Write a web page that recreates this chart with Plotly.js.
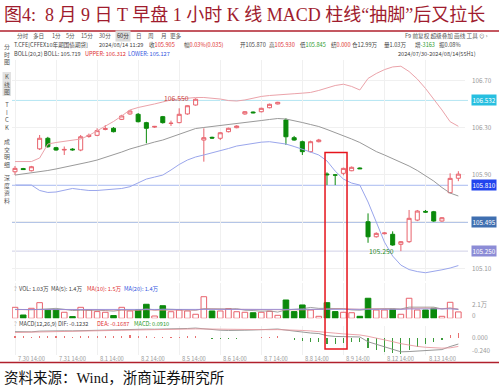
<!DOCTYPE html>
<html><head><meta charset="utf-8">
<script src="https://cdn.plot.ly/plotly-3.0.1.min.js"></script>
<style>html,body{margin:0;padding:0;background:#fff;}#chart{width:499px;height:389px;}</style>
</head><body><div id="chart"></div>
<script>
// ---------- DATA ----------
const barIdx = [0,1,2,3,4,5,6,7,8,9,10,11,12,13,14,15,16,17,18,19,20,21,22,23,24,25,26,27,28,29,30,31,32,33,34,35,36,37,38,39,40,41,42,43,44,45,46,47,48,49,50,51,52,53,54];
const tickIdx = [0,5,10,15,20,25,30,35,40,45,50];
const tickLabels = ["7.30 14:00","7.31 14:00","8.1 14:00","8.2 14:00","8.5 14:00","8.6 14:00","8.7 14:00","8.8 14:00","8.9 14:00","8.12 14:00","8.13 14:00"];

const open  = [105.925,105.952,105.934,106.120,106.210,106.130,106.110,106.118,106.110,106.225,106.235,106.285,106.295,106.371,106.417,106.414,106.343,106.305,106.394,106.336,106.343,106.417,106.493,106.195,106.218,106.210,106.266,106.300,106.417,106.433,106.436,106.470,106.502,106.366,106.215,106.181,106.096,106.181,105.906,105.898,105.912,105.934,105.957,105.500,105.372,105.398,105.393,105.308,105.330,105.514,105.588,105.585,105.506,105.747,105.870];
const high  = [105.974,105.958,105.975,106.238,106.222,106.137,106.140,106.125,106.238,106.250,106.295,106.323,106.305,106.410,106.450,106.425,106.350,106.315,106.400,106.360,106.465,106.490,106.550,106.295,106.224,106.262,106.300,106.320,106.440,106.438,106.470,106.505,106.520,106.380,106.230,106.190,106.190,106.205,105.920,105.905,105.960,105.970,105.962,105.571,105.410,105.410,105.418,105.335,105.600,105.600,105.600,105.592,105.540,105.912,105.930];
const low   = [105.897,105.940,105.928,106.110,106.130,106.105,106.068,106.105,106.100,106.215,106.228,106.278,106.260,106.365,106.410,106.345,106.167,106.298,106.335,106.315,106.338,106.410,106.488,106.011,106.205,106.195,106.260,106.295,106.410,106.422,106.430,106.465,106.498,106.153,106.190,106.068,106.090,106.175,105.812,105.812,105.895,105.930,105.948,105.321,105.365,105.392,105.296,105.250,105.320,105.505,105.575,105.500,105.500,105.740,105.845];
const close = [105.954,105.944,105.968,106.210,106.138,106.110,106.115,106.112,106.223,106.235,106.275,106.292,106.266,106.400,106.442,106.351,106.295,106.311,106.343,106.338,106.414,106.487,106.542,106.215,106.212,106.257,106.295,106.314,106.436,106.427,106.465,106.499,106.516,106.223,106.195,106.096,106.181,106.195,105.900,105.897,105.954,105.963,105.951,105.372,105.401,105.404,105.302,105.330,105.529,105.591,105.582,105.506,105.534,105.869,105.905];

const bollUpper = [106.012,106.012,106.012,106.042,106.161,106.174,106.183,106.191,106.204,106.234,106.272,106.314,106.353,106.400,106.451,106.472,106.485,106.502,106.519,106.536,106.544,106.553,106.557,106.557,106.553,106.544,106.531,106.527,106.536,106.553,106.566,106.574,106.581,106.587,106.589,106.594,106.600,106.617,106.638,106.659,106.670,106.651,106.621,106.719,106.761,106.794,106.817,106.823,106.778,106.714,106.634,106.544,106.451,106.351,106.312];
const bollMid   = [105.897,105.906,105.913,105.923,105.936,105.949,105.963,105.976,105.991,106.008,106.025,106.046,106.068,106.093,106.119,106.140,106.157,106.178,106.195,106.221,106.246,106.268,106.293,106.302,106.310,106.316,106.323,106.331,106.344,106.353,106.361,106.370,106.378,106.374,106.361,106.344,106.327,106.310,106.285,106.259,106.234,106.204,106.174,106.136,106.097,106.068,106.038,106.008,105.974,105.936,105.893,105.846,105.791,105.744,105.719];
const bollLower = [105.812,105.815,105.812,105.766,105.749,105.753,105.770,105.783,105.774,105.766,105.766,105.770,105.774,105.783,105.798,105.834,105.863,105.880,105.897,105.940,105.987,106.025,106.051,106.068,106.085,106.104,106.123,106.144,106.157,106.170,106.177,106.181,106.174,106.161,106.140,106.119,106.093,106.068,106.017,105.931,105.863,105.829,105.812,105.668,105.489,105.327,105.208,105.131,105.093,105.076,105.066,105.076,105.091,105.106,105.127];

// volume in 万
const volume = [1.77,0.53,1.61,2.52,1.34,1.34,0.97,0.27,1.77,1.34,1.08,0.97,0.44,1.77,1.18,1.34,2.26,0.37,2.03,1.06,1.34,1.18,0.65,3.48,1.18,1.18,1.55,1.06,0.97,0.90,0.97,1.13,0.48,2.95,1.08,2.15,1.34,0.32,2.52,1.08,0.97,0.90,0.32,3.23,1.34,1.34,1.45,0.65,3.23,1.34,1.34,1.61,0.32,2.58,1.03];
const volMA5  = [1.45,1.40,1.38,1.45,1.50,1.60,1.45,1.25,1.30,1.35,1.30,1.25,1.15,1.35,1.35,1.30,1.55,1.35,1.50,1.45,1.40,1.45,1.30,1.55,1.50,1.55,1.50,1.55,1.30,1.25,1.15,1.20,1.00,1.35,1.40,1.55,1.75,1.60,1.60,1.60,1.55,1.35,1.30,1.45,1.55,1.55,1.55,1.50,1.80,1.80,1.80,1.80,1.50,1.65,1.40];
const volMA10 = [1.40,1.40,1.40,1.42,1.45,1.48,1.45,1.40,1.38,1.40,1.40,1.35,1.30,1.30,1.32,1.30,1.40,1.30,1.32,1.40,1.38,1.40,1.35,1.50,1.48,1.50,1.48,1.45,1.40,1.38,1.35,1.35,1.30,1.35,1.30,1.35,1.40,1.40,1.50,1.50,1.55,1.50,1.45,1.55,1.55,1.52,1.50,1.45,1.60,1.65,1.65,1.62,1.55,1.65,1.50];
const volMA20 = [1.42,1.42,1.41,1.42,1.43,1.44,1.43,1.42,1.42,1.42,1.41,1.40,1.38,1.38,1.38,1.37,1.39,1.37,1.38,1.38,1.38,1.39,1.37,1.42,1.42,1.43,1.43,1.42,1.41,1.40,1.38,1.38,1.36,1.40,1.40,1.42,1.44,1.42,1.44,1.44,1.44,1.42,1.40,1.45,1.46,1.46,1.46,1.45,1.50,1.52,1.52,1.50,1.48,1.52,1.45];

const dif = [0.110,0.108,0.107,0.120,0.125,0.126,0.126,0.125,0.130,0.135,0.140,0.145,0.146,0.152,0.160,0.162,0.158,0.156,0.158,0.158,0.162,0.170,0.178,0.160,0.146,0.138,0.133,0.130,0.138,0.142,0.148,0.155,0.160,0.140,0.120,0.098,0.085,0.075,0.035,0.020,0.015,0.012,0.010,-0.080,-0.130,-0.175,-0.225,-0.270,-0.265,-0.255,-0.245,-0.240,-0.228,-0.170,-0.1232];
const dea = [0.095,0.097,0.099,0.103,0.107,0.111,0.114,0.116,0.119,0.122,0.126,0.130,0.133,0.137,0.141,0.145,0.148,0.150,0.152,0.153,0.155,0.158,0.162,0.161,0.158,0.154,0.150,0.146,0.144,0.144,0.145,0.147,0.149,0.147,0.142,0.133,0.124,0.114,0.098,0.082,0.068,0.057,0.048,0.022,-0.008,-0.041,-0.078,-0.116,-0.146,-0.168,-0.184,-0.195,-0.201,-0.195,-0.1687];
const macdHist = [0.030,0.022,0.016,0.034,0.036,0.030,0.024,0.018,0.022,0.026,0.028,0.030,0.026,0.030,0.038,0.034,0.020,0.012,0.012,0.010,0.014,0.024,0.032,-0.002,-0.024,-0.032,-0.034,-0.032,-0.012,-0.004,0.006,0.016,0.022,-0.014,-0.044,-0.070,-0.078,-0.078,-0.126,-0.124,-0.106,-0.090,-0.076,-0.204,-0.244,-0.268,-0.294,-0.308,-0.238,-0.174,-0.122,-0.090,-0.054,0.050,0.0910];

const levelValues = [106.532, 105.810, 105.495, 105.250];
const levelLabels = ["106.532","105.810","105.495","105.250"];
const priceTickVals = [106.70, 106.30, 105.90, 105.10];
const priceTickText = ["106.70","106.30","105.90","105.10"];

// ---------- LAYOUT HELPERS ----------
const W = 499, H = 389;
const px = x => x / W;
const py = y => 1 - y / H;
const UP = '#e8626c', DOWN = '#0b8a0b';
const F = "'Noto Sans CJK SC','Noto Sans',sans-serif";
const FS = 5.6;

const isUp = barIdx.map(i => close[i] >= open[i]);

const traces = [
  {type:'candlestick', x:barIdx, open, high, low, close, xaxis:'x', yaxis:'y',
   increasing:{line:{color:UP,width:1}, fillcolor:'#ffffff'},
   decreasing:{line:{color:DOWN,width:1}, fillcolor:DOWN},
   whiskerwidth:0, hoverinfo:'skip'},
  {type:'scatter', mode:'lines', x:barIdx, y:bollUpper, xaxis:'x', yaxis:'y', line:{color:'#eba3aa', width:1}, hoverinfo:'skip'},
  {type:'scatter', mode:'lines', x:barIdx, y:bollMid, xaxis:'x', yaxis:'y', line:{color:'#9a9a9a', width:1}, hoverinfo:'skip'},
  {type:'scatter', mode:'lines', x:barIdx, y:bollLower, xaxis:'x', yaxis:'y', line:{color:'#9aa6ec', width:1}, hoverinfo:'skip'},
  {type:'bar', x:barIdx, y:volume, xaxis:'x2', yaxis:'y2', width:0.68,
   marker:{color:isUp.map(u => u ? '#ffffff' : DOWN), line:{color:isUp.map(u => u ? UP : DOWN), width:1}}, hoverinfo:'skip'},
  {type:'scatter', mode:'lines', x:barIdx, y:volMA5, xaxis:'x2', yaxis:'y2', line:{color:'#8a8a8a', width:0.8}, hoverinfo:'skip'},
  {type:'scatter', mode:'lines', x:barIdx, y:volMA10, xaxis:'x2', yaxis:'y2', line:{color:'#e08a8a', width:0.8}, hoverinfo:'skip'},
  {type:'scatter', mode:'lines', x:barIdx, y:volMA20, xaxis:'x2', yaxis:'y2', line:{color:'#8a8ae0', width:0.8}, hoverinfo:'skip'},
  {type:'bar', x:barIdx, y:macdHist, xaxis:'x3', yaxis:'y3', width:0.14,
   marker:{color:macdHist.map(v => v >= 0 ? '#e87070' : '#3a9a3a')}, hoverinfo:'skip'},
  {type:'scatter', mode:'lines', x:barIdx, y:dif, xaxis:'x3', yaxis:'y3', line:{color:'#8c8c8c', width:0.9}, hoverinfo:'skip'},
  {type:'scatter', mode:'lines', x:barIdx, y:dea, xaxis:'x3', yaxis:'y3', line:{color:'#e89aa0', width:0.9}, hoverinfo:'skip'}
];

const xr = [-0.365, 54.81];
const xbase = {domain:[px(12), px(465)], range:xr, showticklabels:false, tickvals:tickIdx,
  showgrid:true, gridcolor:'#f0f0f0', gridwidth:1, zeroline:false, showline:false, ticks:'', fixedrange:true};

const annotations = [];
const A = (x, y, text, o = {}) => annotations.push(Object.assign({
  xref:'paper', yref:'paper', x:px(x), y:py(y), text, showarrow:false, xanchor:'left', yanchor:'middle',
  font:{family:F, size:FS, color:'#444'}}, o));
const C = c => ({family:F, size:FS, color:c});

// title & footer
A(2, 15, '图4:  8 月 9 日 T 早盘 1 小时 K 线 MACD 柱线“抽脚”后又拉长',
  {font:{family:"'Liberation Serif','Noto Sans CJK SC',serif", size:18, color:'#a01c2e'}});
A(2, 378, '资料来源：Wind，浙商证券研究所',
  {font:{family:"'Liberation Serif','Noto Sans CJK SC',serif", size:14.5, color:'#111'}});

// toolbar
[['分时',15],['多日',31],['1分',50],['5分',64],['15分',79],['30分',97],['日',134],['周',146],['月',159],['更多',168]]
  .forEach(([t,x]) => A(x, 36, t, {font:C('#555')}));
A(115, 36, '60分', {bgcolor:'#d9d9d9', borderpad:1, font:C('#333')});
A(490, 36, 'F9 前复权 超级叠加 画线 工具 ⊙ ›', {xanchor:'right', font:C('#555')});

// row 2
const RED = '#e03030', GRN = '#2a9a2a', BLU = '#3355e0';
const sp = (c, t) => `<span style="color:${c}">${t}</span>`;
[['T.CFE[CFFEX10年期国债期货]',12],['2024/08/14 11:29',97],['收'+sp(RED,'105.905'),147],['幅'+sp(RED,'0.03%(0.035)'),182],
 ['开105.870',238],['高'+sp(RED,'105.930'),267],['低'+sp(GRN,'105.845'),298],['结'+sp(RED,'0.000'),329],
 ['仓12.99万',350],['量1.03万',382],['增'+sp(GRN,'-3163'),413],['振0.08%',437]].forEach(([t,x]) => A(x, 45, t));
// row 3
A(12, 54, 'BOLL(20,2) BOLL: 105.719');
A(83, 54, 'UPPER: 106.312', {font:C(RED)});
A(126, 54, 'LOWER: 105.127', {font:C(BLU)});
A(478, 54, '2024/07/30-2024/08/14(55H1)', {xanchor:'right'});

// left sidebar (vertical labels)
const SB = {family:F, size:5.9, color:'#555'};
[['分<br>时<br>图',54], ['K<br>线<br>图',84], ['T<br>I<br>C<br>K',115.5], ['成<br>交<br>明<br>细',152.5], ['深<br>度<br>资<br>料',188.8]]
  .forEach(([t,y]) => A(6.7, y, t, {xanchor:'center', font:SB}));

// volume / macd labels
A(12, 289, '?', {font:C('#999')});
A(17, 289, 'VOL: 1.03万');
A(49, 289, 'MA(5): 1.4万');
A(85, 289, 'MA(10): 1.5万', {font:C(RED)});
A(122, 289, 'MA(20): 1.4万', {font:C(BLU)});
A(12, 324, '?', {font:C('#999')});
A(17, 324, 'MACD(12,26,9) DIF: -0.1232');
A(95, 324, 'DEA: -0.1687', {font:C(RED)});
A(132, 324, 'MACD: 0.0910', {font:C(GRN)});

// right axis labels
const AX = {family:F, size:6.3, color:'#999'};
priceTickVals.forEach((v,k) => annotations.push({xref:'paper', yref:'y', x:px(470), y:v, text:priceTickText[k],
  showarrow:false, xanchor:'left', yanchor:'middle', font:AX}));
A(470, 304.3, '2.1万', {font:AX});
A(470, 315, '0', {font:AX});
A(470, 337.3, '0.000', {font:AX});
A(470, 350, '-0.240', {font:AX});

// level tags
const tagColors = ['#27bfe0','#2244ee','#3f6fb0','#8c8cd6'];
const lineColors = ['#b4e6f2','#a9bbf0','#a3b8e2','#d0d0e6'];
levelValues.forEach((v,k) => annotations.push({xref:'paper', yref:'y', x:px(470.5), y:v, text:levelLabels[k],
  showarrow:false, xanchor:'left', yanchor:'middle', bgcolor:tagColors[k], borderpad:0.5,
  font:{family:F, size:6.3, color:'#ffffff'}}));

// hi / lo labels
annotations.push({xref:'paper', yref:'y', x:px(191), y:106.550, text:'106.550', showarrow:false, xanchor:'right', yanchor:'middle',
  font:{family:F, size:6.8, color:'#c83c3c'}});
annotations.push({xref:'paper', yref:'y', x:px(396), y:105.250, text:'105.250', showarrow:false, xanchor:'right', yanchor:'middle',
  font:{family:F, size:6.8, color:'#2a8a2a'}});

// x labels
tickIdx.forEach((t,k) => annotations.push({xref:'x3', yref:'paper', x:t, y:py(358.5), text:tickLabels[k], showarrow:false,
  xanchor:'left', yanchor:'middle', xshift:1, font:{family:F, size:5.8, color:'#9a9a9a'}}));

// shapes
const shapes = [
  {type:'line', xref:'paper', yref:'paper', x0:0, x1:1, y0:py(31), y1:py(31), line:{color:'#b0202c', width:1.3}},
  {type:'line', xref:'paper', yref:'paper', x0:0, x1:1, y0:py(362.5), y1:py(362.5), line:{color:'#b0202c', width:1.3}},
  {type:'rect', xref:'paper', yref:'paper', x0:px(2.5), x1:px(11), y0:py(96), y1:py(72), fillcolor:'#e2e2e2', line:{width:0}, layer:'below'},
  {type:'rect', xref:'x', yref:'paper', x0:37.76, x1:40.44, y0:py(349), y1:py(152.5), line:{color:'#e6141c', width:1.5}}
];
levelValues.forEach((v,k) => {
  shapes.push({type:'line', xref:'paper', yref:'y', x0:px(12), x1:px(468), y0:v, y1:v, line:{color:lineColors[k], width:1}, layer:'below'});
});

const layout = {
  width:W, height:H, margin:{l:0,r:0,t:0,b:0}, paper_bgcolor:'#fff', plot_bgcolor:'rgba(0,0,0,0)',
  showlegend:false, bargap:0,
  xaxis:Object.assign({}, xbase, {anchor:'y', rangeslider:{visible:false}}),
  xaxis2:Object.assign({}, xbase, {anchor:'y2'}),
  xaxis3:Object.assign({}, xbase, {anchor:'y3'}),
  yaxis:{domain:[py(280.5), py(60)], range:[105.0, 106.876], tickvals:[105.1,105.5,105.9,106.3,106.7], showticklabels:false,
    showgrid:true, gridcolor:'#f0f0f0', zeroline:false, showline:false, ticks:'', anchor:'x', fixedrange:true},
  yaxis2:{domain:[py(318.3), py(283)], range:[0, 5.69], showticklabels:false, showgrid:false, zeroline:false, anchor:'x2', fixedrange:true},
  yaxis3:{domain:[py(355), py(326)], range:[-0.330, 0.217], showticklabels:false, showgrid:false, zeroline:false, anchor:'x3', fixedrange:true},
  annotations, shapes
};

Plotly.newPlot('chart', traces, layout, {staticPlot:true, displayModeBar:false});
</script></body></html>
